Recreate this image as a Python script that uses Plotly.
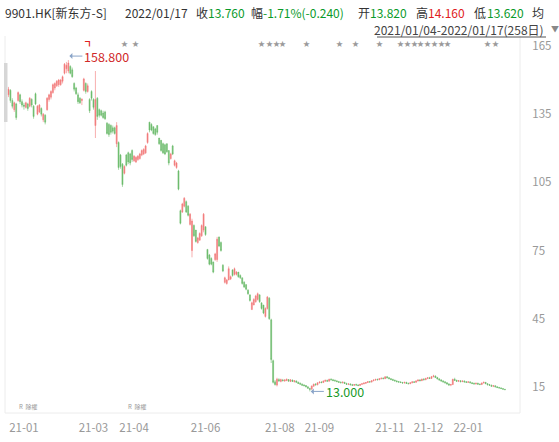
import plotly.graph_objects as go

# ---------------- data ----------------
OPEN = [
    143.5, 145.5, 141.0, 137.0, 139.5, 141.0, 143.5, 140.5, 139.0, 138.0,
    139.5, 138.5, 141.5, 138.5, 144.0, 135.0, 136.0, 137.5, 132.5, 134.5,
    137.0, 141.5, 142.5, 144.5, 146.5, 147.5, 148.0, 148.0, 149.5, 153.0,
    155.0, 154.0, 156.0, 154.5, 148.5, 146.5, 143.5, 142.0, 141.0, 145.5,
    148.5, 145.0, 141.5, 145.0, 141.5, 130.0, 142.0, 137.0, 136.5, 135.5,
    136.0, 131.0, 130.5, 130.0, 129.0, 129.0, 122.0, 122.5, 117.0, 113.0,
    109.0, 117.0, 118.0, 117.5, 119.0, 114.5, 114.0, 115.0, 115.5, 117.0,
    117.5, 118.0, 122.5, 131.5, 130.5, 129.5, 128.5, 130.0, 124.5, 123.5,
    122.0, 121.5, 122.0, 119.0, 115.5, 121.0, 112.5, 111.5, 110.0, 92.5,
    92.0, 94.5, 96.5, 94.5, 86.5, 75.0, 86.0, 84.0, 78.5, 79.5,
    81.5, 84.0, 85.5, 75.5, 73.0, 71.5, 70.0, 71.0, 71.0, 81.0,
    78.5, 68.5, 61.0, 60.5, 62.0, 62.5, 66.5, 64.5, 64.5, 65.5,
    64.0, 63.0, 61.0, 60.0, 57.5, 55.5, 49.0, 51.0, 52.5, 53.5,
    55.5, 52.0, 51.0, 46.0, 49.5, 54.0, 44.5, 26.5,
    17.2, 15.8, 18.2, 17.4, 18.0, 17.6, 17.8, 18.2, 17.4, 18.0,
    17.3, 17.6, 17.0, 16.6, 16.2, 15.8, 15.6, 15.0, 14.3, 14.0,
    15.3, 16.1, 15.9, 16.8, 17.1, 16.9, 17.5, 17.8, 17.5, 18.3,
    18.1, 17.8, 17.6, 17.3, 17.0, 16.8, 17.0, 16.5, 16.1, 16.3,
    15.9, 15.7, 16.0, 15.8, 15.6, 16.1, 16.4, 16.6, 16.9, 17.3,
    17.1, 17.7, 18.0, 18.3, 18.1, 18.6, 18.8, 18.6, 19.4, 19.0,
    18.6, 18.2, 17.9, 17.6, 17.3, 17.1, 16.9, 16.7, 17.0, 16.5,
    16.4, 16.8, 17.2, 17.0, 17.6, 18.0, 17.7, 18.4, 18.1, 18.7,
    19.0, 18.7, 19.5, 19.8, 19.1, 18.5, 18.0, 17.6, 17.2, 16.8,
    16.3, 15.8, 16.0, 18.3, 17.9, 17.5, 17.7, 17.3, 17.6, 17.2,
    17.0, 17.2, 16.8, 16.5, 16.3, 16.6, 16.2, 16.0, 16.7, 17.0,
    16.4, 16.0, 15.7, 15.3, 15.5, 15.0, 14.7, 14.5, 14.2, 13.82,
]
HIGH = [
    147.0, 146.0, 142.0, 140.5, 140.0, 145.0, 144.0, 141.5, 140.0, 140.5,
    140.0, 142.5, 142.0, 139.0, 144.5, 139.0, 139.5, 138.0, 135.5, 135.0,
    142.5, 144.0, 145.5, 148.5, 149.0, 150.0, 150.5, 150.5, 152.0, 157.5,
    158.0, 158.8, 156.5, 155.5, 149.0, 147.0, 144.5, 142.5, 142.0, 151.0,
    149.0, 148.5, 142.0, 145.5, 142.0, 154.0, 142.5, 137.5, 137.0, 136.5,
    136.5, 131.5, 131.0, 130.5, 130.0, 129.5, 131.5, 123.0, 117.5, 113.5,
    112.5, 117.5, 118.5, 118.0, 119.5, 117.0, 116.5, 117.0, 118.0, 119.5,
    120.0, 121.5, 127.0, 131.5, 131.0, 129.5, 129.0, 130.0, 124.5, 123.5,
    122.5, 122.0, 122.0, 119.0, 118.0, 121.5, 115.0, 114.0, 110.5, 93.0,
    96.0, 98.5, 97.0, 95.0, 91.5, 89.0, 86.5, 84.0, 81.0, 83.0,
    86.5, 91.5, 85.5, 75.5, 73.5, 72.0, 70.0, 74.0, 81.0, 81.0,
    79.0, 69.0, 63.5, 62.5, 68.0, 64.0, 66.5, 67.5, 66.0, 65.5,
    64.5, 63.0, 61.5, 60.0, 58.0, 55.5, 52.5, 54.0, 55.5, 56.5,
    55.5, 52.0, 51.0, 50.0, 55.0, 54.5, 45.0, 27.0,
    18.0, 19.0, 18.8, 18.6, 18.5, 18.4, 18.7, 18.4, 18.4, 18.2,
    17.9, 17.8, 17.3, 16.9, 16.5, 16.2, 15.8, 15.2, 14.6, 15.6,
    16.4, 16.7, 17.0, 17.4, 17.5, 17.8, 18.1, 18.2, 18.6, 18.8,
    18.5, 18.3, 18.0, 17.6, 17.4, 17.3, 17.2, 16.8, 16.6, 16.5,
    16.3, 16.2, 16.4, 16.2, 16.3, 16.6, 16.9, 17.1, 17.5, 17.6,
    17.9, 18.3, 18.5, 18.6, 18.8, 19.1, 19.2, 19.7, 19.8, 19.3,
    18.9, 18.6, 18.2, 17.9, 17.6, 17.5, 17.2, 17.2, 17.2, 16.9,
    17.0, 17.4, 17.5, 17.9, 18.3, 18.4, 18.6, 18.8, 19.0, 19.3,
    19.4, 19.8, 20.3, 20.0, 19.4, 18.8, 18.4, 17.9, 17.5, 17.1,
    16.6, 16.3, 18.6, 19.0, 18.1, 18.0, 17.9, 17.8, 17.8, 17.5,
    17.4, 17.3, 17.0, 16.9, 16.8, 16.8, 16.5, 16.9, 17.3, 17.1,
    16.6, 16.3, 16.0, 15.7, 15.6, 15.3, 15.0, 14.8, 14.5, 14.16,
]
LOW = [
    142.5, 140.0, 137.5, 136.0, 132.5, 140.5, 139.5, 138.0, 137.0, 137.5,
    136.5, 138.0, 138.0, 133.0, 139.0, 134.5, 135.5, 134.0, 131.5, 130.5,
    136.5, 140.5, 141.5, 144.0, 145.5, 147.0, 147.0, 147.5, 148.5, 152.5,
    153.0, 153.0, 152.5, 151.0, 145.0, 143.5, 139.5, 139.5, 139.0, 145.0,
    144.0, 144.5, 135.5, 141.0, 137.0, 124.5, 132.5, 133.5, 134.0, 133.0,
    132.5, 126.0, 125.0, 126.0, 126.5, 126.0, 120.5, 110.5, 111.0, 103.0,
    108.5, 112.0, 113.0, 112.5, 114.0, 114.0, 113.5, 114.5, 115.0, 116.5,
    117.0, 117.5, 122.0, 127.0, 127.5, 126.0, 125.5, 126.0, 121.5, 118.5,
    117.5, 117.0, 118.0, 112.5, 115.0, 117.0, 112.0, 111.0, 101.5, 86.5,
    91.5, 94.0, 91.5, 90.0, 86.0, 72.0, 81.0, 78.5, 78.0, 79.5,
    81.0, 83.0, 81.5, 71.0, 68.5, 68.5, 65.0, 70.5, 70.0, 76.5,
    74.5, 65.5, 60.5, 60.0, 62.0, 62.0, 63.5, 64.0, 64.0, 63.0,
    62.5, 60.0, 58.5, 57.5, 55.5, 52.5, 49.0, 51.0, 52.0, 53.0,
    52.0, 49.0, 47.0, 45.5, 49.0, 44.5, 25.5, 16.5,
    15.6, 15.2, 17.2, 17.0, 17.3, 17.2, 17.5, 17.3, 17.1, 17.2,
    16.9, 16.9, 16.3, 16.0, 15.5, 15.3, 14.8, 14.2, 13.0, 13.8,
    15.1, 15.6, 15.7, 16.5, 16.6, 16.8, 17.2, 17.3, 17.4, 17.9,
    17.5, 17.4, 17.1, 16.8, 16.6, 16.5, 16.3, 15.9, 15.8, 15.7,
    15.5, 15.4, 15.6, 15.3, 15.5, 15.9, 16.1, 16.3, 16.7, 16.9,
    17.0, 17.5, 17.7, 17.9, 18.0, 18.3, 18.4, 18.5, 18.8, 18.4,
    18.0, 17.7, 17.4, 17.0, 16.8, 16.7, 16.4, 16.5, 16.3, 16.1,
    16.2, 16.6, 16.8, 16.9, 17.4, 17.5, 17.6, 17.9, 18.0, 18.4,
    18.5, 18.6, 19.2, 18.9, 18.3, 17.8, 17.3, 16.9, 16.5, 16.0,
    15.5, 15.3, 15.9, 17.6, 17.2, 17.1, 17.0, 17.1, 16.9, 16.8,
    16.7, 16.6, 16.2, 16.0, 16.0, 16.0, 15.8, 15.9, 16.5, 16.2,
    15.7, 15.5, 15.1, 14.9, 14.8, 14.5, 14.3, 14.0, 13.8, 13.62,
]
CLOSE = [
    146.0, 141.0, 138.5, 140.0, 133.5, 144.5, 140.5, 139.0, 138.5, 140.0,
    137.5, 142.0, 139.0, 134.0, 139.5, 138.5, 139.0, 135.0, 135.0, 131.5,
    142.0, 143.5, 145.0, 148.0, 148.5, 149.5, 150.0, 150.0, 151.5, 157.0,
    156.5, 157.5, 153.0, 151.5, 146.0, 144.0, 140.5, 140.0, 141.5, 150.5,
    145.0, 147.5, 136.5, 142.0, 138.0, 141.5, 134.0, 134.5, 134.5, 133.5,
    133.0, 126.5, 126.0, 127.0, 127.5, 126.5, 130.0, 111.5, 112.0, 104.0,
    112.0, 112.5, 114.0, 113.5, 115.0, 116.5, 116.0, 116.5, 117.5, 119.0,
    119.5, 121.0, 126.5, 128.0, 128.0, 126.5, 126.0, 127.0, 122.0, 119.0,
    118.0, 117.5, 118.5, 113.5, 117.5, 117.5, 114.5, 113.5, 102.0, 87.0,
    95.5, 98.0, 92.0, 90.5, 91.0, 88.0, 81.5, 79.0, 80.5, 82.5,
    86.0, 91.0, 82.0, 71.5, 69.0, 69.0, 65.5, 73.5, 80.0, 77.0,
    75.0, 66.0, 63.0, 62.0, 67.0, 63.5, 64.0, 67.0, 65.5, 63.5,
    63.0, 60.5, 59.0, 58.0, 56.0, 53.0, 52.0, 53.5, 55.0, 56.0,
    52.5, 49.5, 47.5, 49.5, 54.5, 45.0, 27.0, 17.0,
    16.0, 18.4, 17.6, 18.2, 17.8, 18.0, 18.3, 17.5, 18.1, 17.4,
    17.7, 17.0, 16.5, 16.2, 15.7, 15.5, 15.0, 14.4, 13.9, 15.4,
    16.2, 15.9, 16.8, 17.1, 16.9, 17.6, 17.9, 17.5, 18.3, 18.1,
    17.8, 17.6, 17.3, 17.0, 16.8, 17.1, 16.5, 16.1, 16.3, 15.9,
    15.7, 16.0, 15.8, 15.6, 16.1, 16.4, 16.7, 16.9, 17.3, 17.1,
    17.7, 18.0, 18.3, 18.1, 18.6, 18.8, 18.6, 19.4, 19.0, 18.6,
    18.2, 17.9, 17.6, 17.3, 17.1, 16.9, 16.7, 17.0, 16.5, 16.4,
    16.8, 17.2, 17.0, 17.6, 18.0, 17.7, 18.4, 18.1, 18.7, 19.0,
    18.7, 19.5, 19.8, 19.1, 18.5, 18.0, 17.6, 17.2, 16.8, 16.3,
    15.8, 16.0, 18.3, 17.9, 17.5, 17.7, 17.3, 17.6, 17.2, 17.0,
    17.2, 16.8, 16.5, 16.3, 16.6, 16.2, 16.0, 16.7, 17.0, 16.4,
    15.9, 15.7, 15.3, 15.5, 15.0, 14.7, 14.5, 14.3, 14.0, 13.76,
]
DAY = list(range(len(CLOSE)))          # trading-day index, 2021/01/04 .. 2022/01/17

MONTH_LABELS = ["21-01", "21-03", "21-04", "21-06", "21-08", "21-09", "21-11", "21-12", "22-01"]
MONTH_DAY = [8, 44, 65, 102, 140.5, 161, 197.5, 217.5, 238]   # day index where each label sits
Y_TICKS = [15, 45, 75, 105, 135, 165]
STAR_DAYS = [60, 66, 131, 135, 138.5, 142, 154.5, 171.5, 179.5, 192,
             203, 206.5, 210, 213.5, 217, 220.5, 224, 227.5, 248, 252]
FLAG_DAY = 42
R_DAYS = [4.5, 61]

# header text
HEADER = [("9901.HK[新东方-S]", "#333333"), ("2022/01/17", "#333333"),
          ("收", "#333333"), ("13.760", "#0a9a2a"),
          ("幅", "#333333"), ("-1.71%(-0.240)", "#0a9a2a"),
          ("开", "#333333"), ("13.820", "#0a9a2a"),
          ("高", "#333333"), ("14.160", "#e02020"),
          ("低", "#333333"), ("13.620", "#0a9a2a"),
          ("均", "#333333")]
HEADER_X = [3, 123, 194, 206, 249, 261, 356, 368, 414, 426, 472, 485, 530]
RANGE_TEXT = "2021/01/04-2022/01/17(258日)"

# ---------------- layout helpers ----------------
W, H = 559, 442
ML, MR, MT, MB = 5, 39, 36, 29
PW, PH = W - ML - MR, H - MT - MB


def px(x):
    return (x - ML) / PW


def py(y):
    return (H - MB - y) / PH


RED = "#f27878"
GREEN = "#6abb6a"
FONT = "Noto Sans CJK SC, Noto Sans, sans-serif"

fig = go.Figure()
fig.add_trace(go.Candlestick(
    x=DAY, open=OPEN, high=HIGH, low=LOW, close=CLOSE,
    increasing=dict(line=dict(color=RED, width=0.6), fillcolor=RED),
    decreasing=dict(line=dict(color=GREEN, width=0.6), fillcolor=GREEN),
    whiskerwidth=0, showlegend=False, hoverinfo="skip",
))

ann = []
for (txt, col), x in zip(HEADER, HEADER_X):
    ann.append(dict(text=txt, x=px(x), y=py(12.5), xref="paper", yref="paper",
                    xanchor="left", yanchor="middle", showarrow=False,
                    font=dict(size=12, color=col, family=FONT)))
ann.append(dict(text=RANGE_TEXT, x=px(546), y=py(29.5), xref="paper", yref="paper",
                xanchor="right", yanchor="middle", showarrow=False,
                font=dict(size=12, color="#444444", family=FONT)))
ann.append(dict(text="▼", x=px(549), y=py(28), xref="paper", yref="paper",
                xanchor="left", yanchor="middle", showarrow=False,
                font=dict(size=8, color="#888888", family=FONT)))

for d in STAR_DAYS:
    ann.append(dict(text="★", x=d, y=py(43), xref="x", yref="paper",
                    xanchor="center", yanchor="middle", showarrow=False,
                    font=dict(size=7, color="#9a9a9a", family=FONT)))
ann.append(dict(text="<b>┓</b>", x=FLAG_DAY, y=py(42), xref="x", yref="paper",
                xanchor="center", yanchor="middle", showarrow=False,
                font=dict(size=9, color="#e02020", family=FONT)))
for d in R_DAYS:
    ann.append(dict(text="R&nbsp;&nbsp;除權", x=d, y=py(406), xref="x", yref="paper",
                    xanchor="left", yanchor="middle", showarrow=False,
                    font=dict(size=6, color="#999999", family=FONT)))

# high / low markers
hi_i = max(DAY, key=lambda i: HIGH[i])
lo_i = min(DAY, key=lambda i: LOW[i])
ann.append(dict(text="%.3f" % HIGH[hi_i], x=hi_i, y=HIGH[hi_i], xref="x", yref="y",
                xanchor="left", yanchor="middle", showarrow=True, ax=14, ay=0,
                yshift=4, arrowhead=1, arrowsize=1, arrowwidth=1, arrowcolor="#8aa4c8",
                standoff=1, font=dict(size=12.5, color="#d02828", family=FONT)))
ann.append(dict(text="%.3f" % LOW[lo_i], x=lo_i, y=LOW[lo_i], xref="x", yref="y",
                xanchor="left", yanchor="middle", showarrow=True, ax=14, ay=0,
                arrowhead=1, arrowsize=1, arrowwidth=1, arrowcolor="#8aa4c8",
                standoff=1, font=dict(size=12.5, color="#1a9a2a", family=FONT)))

shapes = [
    dict(type="line", xref="paper", yref="paper", x0=0, x1=0, y0=0, y1=1,
         line=dict(color="#ececec", width=1)),
    dict(type="line", xref="paper", yref="paper", x0=1, x1=1, y0=0, y1=1,
         line=dict(color="#ececec", width=1)),
    dict(type="line", xref="paper", yref="paper", x0=0, x1=1, y0=0, y1=0,
         line=dict(color="#ececec", width=1)),
    dict(type="line", xref="paper", yref="paper", x0=px(377), x1=px(546),
         y0=py(37), y1=py(37), line=dict(color="#555555", width=1)),
    dict(type="rect", xref="paper", yref="paper", x0=px(4), x1=px(7.5),
         y0=py(122), y1=py(63), fillcolor="#d6d6d6", line=dict(width=0)),
]

fig.update_layout(
    width=W, height=H,
    margin=dict(l=ML, r=MR, t=MT, b=MB, pad=0),
    paper_bgcolor="white", plot_bgcolor="white",
    showlegend=False,
    font=dict(family=FONT, size=11, color="#999999"),
    annotations=ann, shapes=shapes,
    xaxis=dict(range=[-1.8, 264.8], showgrid=False, zeroline=False,
               tickmode="array", tickvals=MONTH_DAY, ticktext=MONTH_LABELS,
               ticks="outside", ticklen=4, tickcolor="rgba(0,0,0,0)",
               tickfont=dict(size=11.5, color="#999999"),
               rangeslider=dict(visible=False), showline=False),
    yaxis=dict(range=[3.5, 169.4], side="right", showgrid=False, zeroline=False,
               tickmode="array", tickvals=Y_TICKS,
               ticks="outside", ticklen=9, tickcolor="rgba(0,0,0,0)",
               tickfont=dict(size=11.5, color="#999999"),
               showline=False),
)

fig.write_html("out.html", config={"displayModeBar": False},
               post_script="document.body.style.margin='0';")
